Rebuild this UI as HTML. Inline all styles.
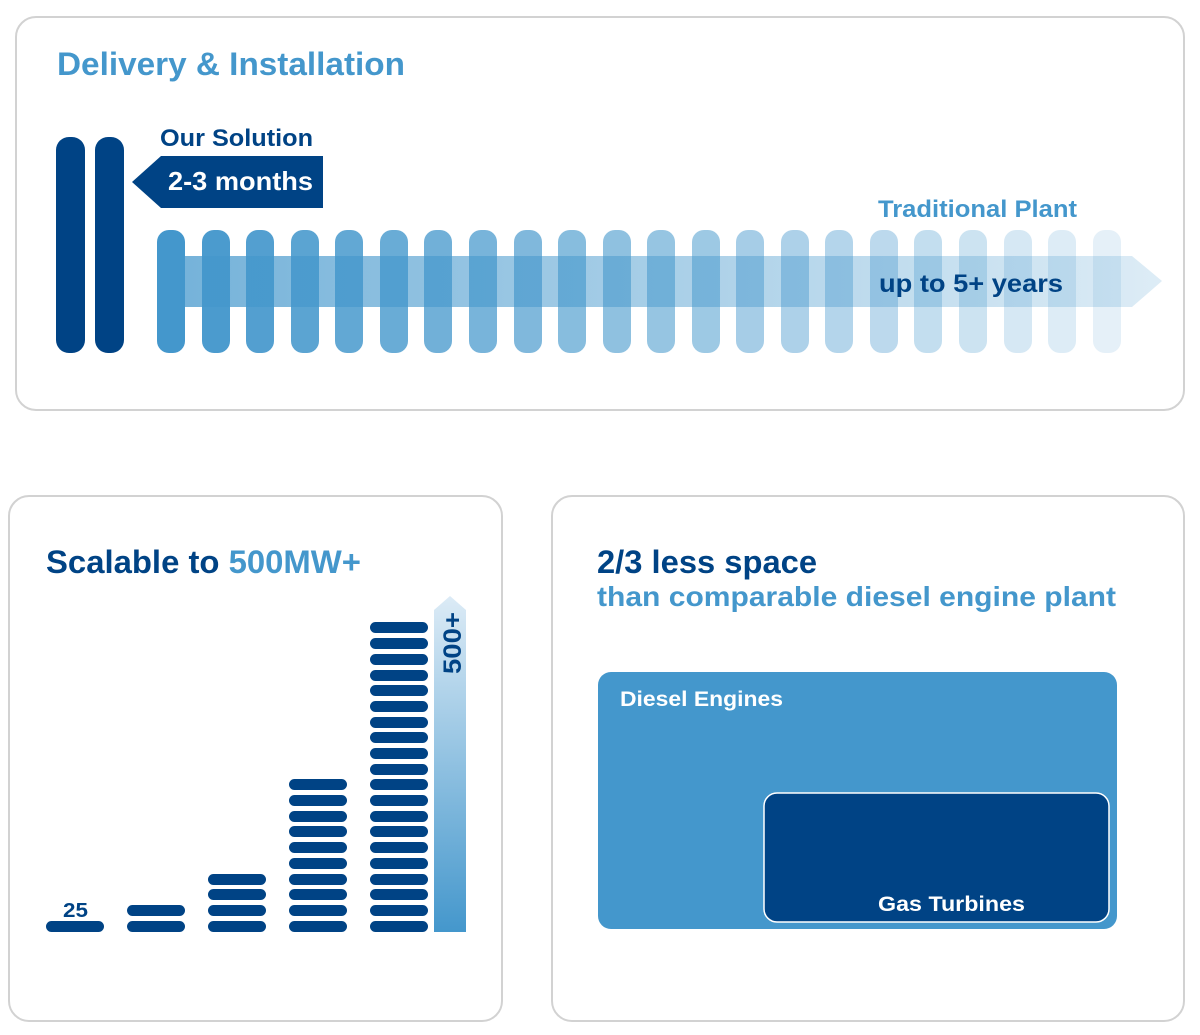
<!DOCTYPE html>
<html><head><meta charset="utf-8"><style>html,body{margin:0;padding:0;background:#fff}svg{display:block}text{font-family:"Liberation Sans",Arial,sans-serif;font-weight:bold}</style></head>
<body>
<svg width="1200" height="1035" viewBox="0 0 1200 1035" xmlns="http://www.w3.org/2000/svg">
<defs>
<linearGradient id="band" x1="157" y1="0" x2="1162" y2="0" gradientUnits="userSpaceOnUse">
<stop offset="0" stop-color="#4497cc" stop-opacity="0.75"/><stop offset="1" stop-color="#4497cc" stop-opacity="0.18"/></linearGradient>
<linearGradient id="up" x1="0" y1="932" x2="0" y2="596" gradientUnits="userSpaceOnUse">
<stop offset="0" stop-color="#4497cc"/><stop offset="1" stop-color="#dcebf6"/></linearGradient>
</defs>
<rect x="16" y="17" width="1168" height="393" rx="20" fill="#fff" stroke="#d2d2d2" stroke-width="2"/>
<rect x="9" y="496" width="493" height="525" rx="20" fill="#fff" stroke="#d2d2d2" stroke-width="2"/>
<rect x="552" y="496" width="632" height="525" rx="20" fill="#fff" stroke="#d2d2d2" stroke-width="2"/>

<text x="57" y="75" font-size="32" fill="#4497cc" textLength="348" lengthAdjust="spacingAndGlyphs">Delivery &amp; Installation</text>
<rect x="56" y="137" width="29" height="216" rx="13" fill="#004385"/>
<rect x="95" y="137" width="29" height="216" rx="13" fill="#004385"/>
<text x="160" y="146" font-size="24" fill="#004385" textLength="153" lengthAdjust="spacingAndGlyphs">Our Solution</text>
<polygon points="132,182 161,156 323,156 323,208 161,208" fill="#004385"/>
<text x="168" y="190" font-size="26" fill="#fff" textLength="145" lengthAdjust="spacingAndGlyphs">2-3 months</text>
<text x="878" y="217" font-size="24" fill="#4497cc" textLength="199" lengthAdjust="spacingAndGlyphs">Traditional Plant</text>
<g fill="#4497cc">
<rect x="157" y="230" width="28" height="123" rx="12" opacity="1"/>
<rect x="202" y="230" width="28" height="123" rx="12" opacity="0.96"/>
<rect x="246" y="230" width="28" height="123" rx="12" opacity="0.92"/>
<rect x="291" y="230" width="28" height="123" rx="12" opacity="0.88"/>
<rect x="335" y="230" width="28" height="123" rx="12" opacity="0.84"/>
<rect x="380" y="230" width="28" height="123" rx="12" opacity="0.80"/>
<rect x="424" y="230" width="28" height="123" rx="12" opacity="0.76"/>
<rect x="469" y="230" width="28" height="123" rx="12" opacity="0.72"/>
<rect x="514" y="230" width="28" height="123" rx="12" opacity="0.68"/>
<rect x="558" y="230" width="28" height="123" rx="12" opacity="0.64"/>
<rect x="603" y="230" width="28" height="123" rx="12" opacity="0.60"/>
<rect x="647" y="230" width="28" height="123" rx="12" opacity="0.56"/>
<rect x="692" y="230" width="28" height="123" rx="12" opacity="0.52"/>
<rect x="736" y="230" width="28" height="123" rx="12" opacity="0.48"/>
<rect x="781" y="230" width="28" height="123" rx="12" opacity="0.44"/>
<rect x="825" y="230" width="28" height="123" rx="12" opacity="0.40"/>
<rect x="870" y="230" width="28" height="123" rx="12" opacity="0.36"/>
<rect x="914" y="230" width="28" height="123" rx="12" opacity="0.32"/>
<rect x="959" y="230" width="28" height="123" rx="12" opacity="0.27"/>
<rect x="1004" y="230" width="28" height="123" rx="12" opacity="0.22"/>
<rect x="1048" y="230" width="28" height="123" rx="12" opacity="0.18"/>
<rect x="1093" y="230" width="28" height="123" rx="12" opacity="0.14"/>
</g>
<polygon points="157,256 1132,256 1162,281 1132,307 157,307" fill="url(#band)"/>
<text x="879" y="292" font-size="25" fill="#004385" textLength="184" lengthAdjust="spacingAndGlyphs">up to 5+ years</text>

<text x="46" y="573" font-size="32" fill="#004385" textLength="315" lengthAdjust="spacingAndGlyphs">Scalable to <tspan fill="#4497cc">500MW+</tspan></text>
<g fill="#004385">
<rect x="46" y="921" width="58" height="11" rx="5.5"/>
<rect x="127" y="921" width="58" height="11" rx="5.5"/><rect x="127" y="905" width="58" height="11" rx="5.5"/>
<rect x="208" y="921" width="58" height="11" rx="5.5"/><rect x="208" y="905" width="58" height="11" rx="5.5"/><rect x="208" y="889" width="58" height="11" rx="5.5"/><rect x="208" y="874" width="58" height="11" rx="5.5"/>
</g>
<g fill="#004385">
<rect x="289" y="921" width="58" height="11" rx="5.5"/><rect x="289" y="905" width="58" height="11" rx="5.5"/><rect x="289" y="889" width="58" height="11" rx="5.5"/><rect x="289" y="874" width="58" height="11" rx="5.5"/><rect x="289" y="858" width="58" height="11" rx="5.5"/><rect x="289" y="842" width="58" height="11" rx="5.5"/><rect x="289" y="826" width="58" height="11" rx="5.5"/><rect x="289" y="811" width="58" height="11" rx="5.5"/><rect x="289" y="795" width="58" height="11" rx="5.5"/><rect x="289" y="779" width="58" height="11" rx="5.5"/>
</g>
<g fill="#004385">
<rect x="370" y="921" width="58" height="11" rx="5.5"/><rect x="370" y="905" width="58" height="11" rx="5.5"/><rect x="370" y="889" width="58" height="11" rx="5.5"/><rect x="370" y="874" width="58" height="11" rx="5.5"/><rect x="370" y="858" width="58" height="11" rx="5.5"/><rect x="370" y="842" width="58" height="11" rx="5.5"/><rect x="370" y="826" width="58" height="11" rx="5.5"/><rect x="370" y="811" width="58" height="11" rx="5.5"/><rect x="370" y="795" width="58" height="11" rx="5.5"/><rect x="370" y="779" width="58" height="11" rx="5.5"/>
<rect x="370" y="764" width="58" height="11" rx="5.5"/><rect x="370" y="748" width="58" height="11" rx="5.5"/><rect x="370" y="732" width="58" height="11" rx="5.5"/><rect x="370" y="717" width="58" height="11" rx="5.5"/><rect x="370" y="701" width="58" height="11" rx="5.5"/><rect x="370" y="685" width="58" height="11" rx="5.5"/><rect x="370" y="670" width="58" height="11" rx="5.5"/><rect x="370" y="654" width="58" height="11" rx="5.5"/><rect x="370" y="638" width="58" height="11" rx="5.5"/><rect x="370" y="622" width="58" height="11" rx="5.5"/>
</g>
<text x="63" y="917" font-size="20" fill="#004385" textLength="25" lengthAdjust="spacingAndGlyphs">25</text>
<polygon points="434,932 434,610 450,596 466,610 466,932" fill="url(#up)"/>
<text transform="translate(461,674) rotate(-90)" font-size="25" fill="#004385" textLength="62" lengthAdjust="spacingAndGlyphs">500+</text>

<text x="597" y="573" font-size="32" fill="#004385" textLength="220" lengthAdjust="spacingAndGlyphs">2/3 less space</text>
<text x="597" y="606" font-size="28" fill="#4497cc" textLength="519" lengthAdjust="spacingAndGlyphs">than comparable diesel engine plant</text>
<rect x="598" y="672" width="519" height="257" rx="13" fill="#4497cc"/>
<text x="620" y="706" font-size="21" fill="#fff" textLength="163" lengthAdjust="spacingAndGlyphs">Diesel Engines</text>
<rect x="764" y="793" width="345" height="129" rx="13" fill="#004385" stroke="#fff" stroke-width="1.5"/>
<text x="878" y="911" font-size="21" fill="#fff" textLength="147" lengthAdjust="spacingAndGlyphs">Gas Turbines</text>
</svg>
</body></html>
